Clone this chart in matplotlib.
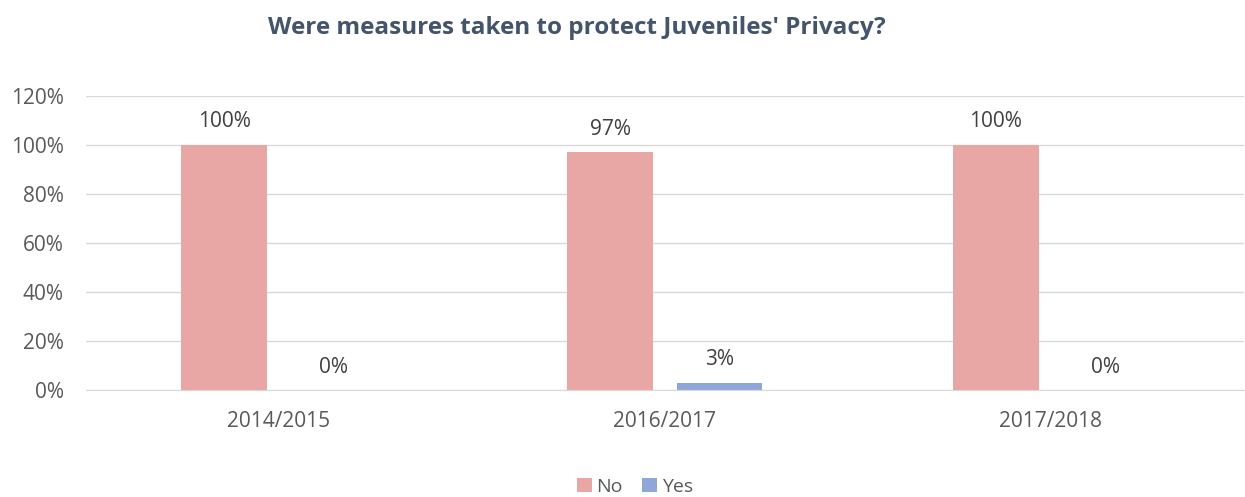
import matplotlib.pyplot as plt
import numpy as np

plt.rcParams['font.family'] = ['Open Sans', 'DejaVu Sans']

years = ['2014/2015', '2016/2017', '2017/2018']
no_vals = [100, 97, 100]
yes_vals = [0, 3, 0]
yticks = [0, 20, 40, 60, 80, 100, 120]

fig = plt.figure(figsize=(12.45, 4.97), dpi=100)
ax = fig.add_axes([0.069, 0.215, 0.930, 0.592])

x = np.arange(len(years))
w = 0.222
off = 0.142
bars_no = ax.bar(x - off, no_vals, w, color='#E8A6A4', label='No')
bars_yes = ax.bar(x + off, yes_vals, w, color='#8FA6D8', label='Yes')

for bars in (bars_no, bars_yes):
    for b in bars:
        ax.annotate(f'{int(b.get_height())}%', (b.get_x() + b.get_width() / 2, b.get_height()),
                    xytext=(0, 9), textcoords='offset points', ha='center', va='bottom',
                    fontsize=15, color='#404040')

ax.set_xlim(-0.5, 2.5)
ax.set_ylim(0, 120)
ax.set_yticks(yticks)
ax.set_yticklabels([f'{t}%' for t in yticks])
ax.set_xticks(x)
ax.set_xticklabels(years)
ax.tick_params(axis='both', length=0, labelsize=15, labelcolor='#595959')
ax.tick_params(axis='x', pad=15)
ax.tick_params(axis='y', pad=16)
ax.grid(axis='y', color='#D9D9D9', linewidth=1)
ax.set_axisbelow(True)
for s in ['top', 'right', 'left']:
    ax.spines[s].set_visible(False)
ax.spines['bottom'].set_color('#D9D9D9')

fig.text(0.463, 0.943, "Were measures taken to protect Juveniles' Privacy?",
         ha='center', va='center', fontsize=17.5, fontweight='bold', color='#44546A')
fig.legend(loc='center', bbox_to_anchor=(0.51, 0.02), ncol=2, frameon=False,
           fontsize=14, labelcolor='#595959', handlelength=0.75, handleheight=0.75,
           handletextpad=0.25, columnspacing=1.0)

fig.savefig('out.png', dpi=100)
